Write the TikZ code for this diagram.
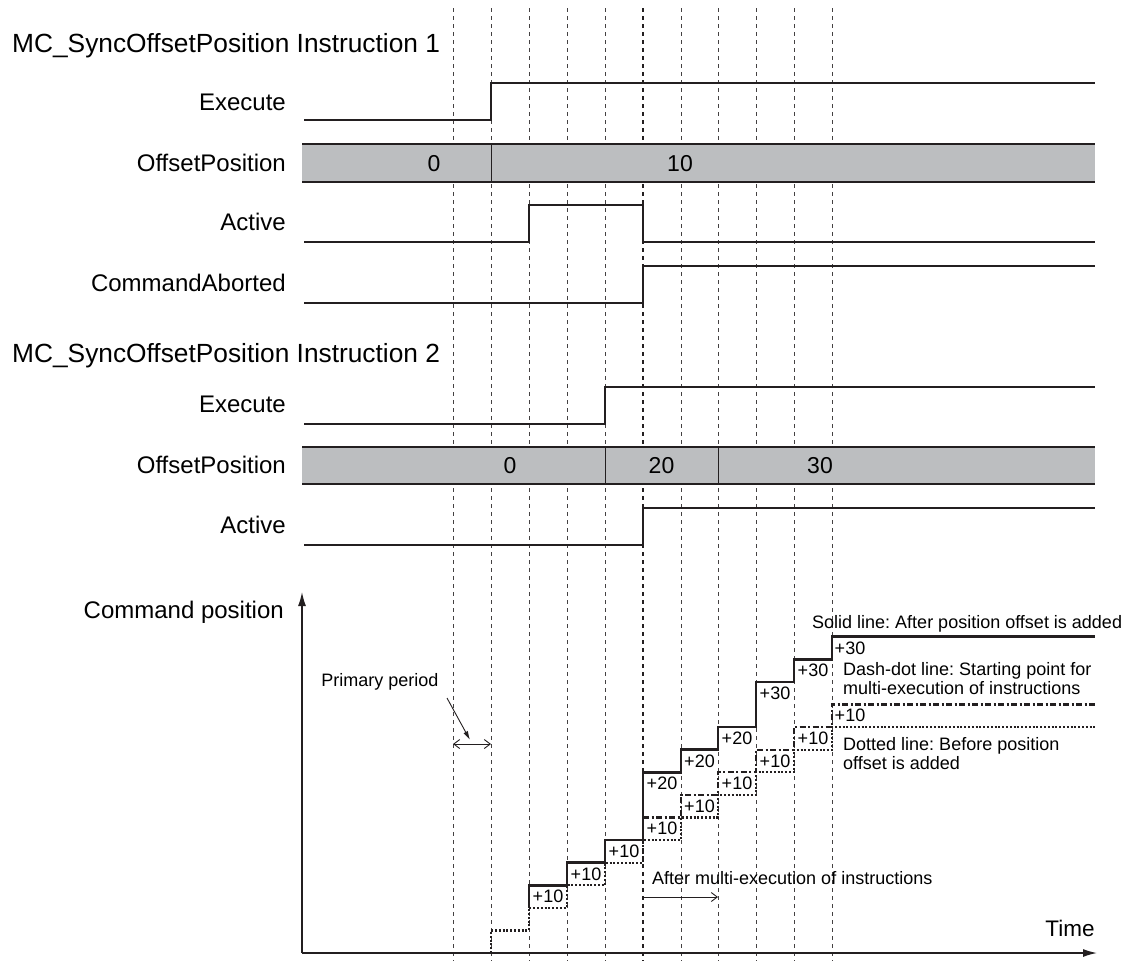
\documentclass[tikz,border=0pt]{standalone}
\usepackage{fontspec}
\setmainfont{Liberation Sans}
\usetikzlibrary{arrows.meta}
\definecolor{ink}{HTML}{231F20}
\definecolor{barfill}{HTML}{BCBEC0}
\frenchspacing
\begin{document}
\begin{tikzpicture}[x=1pt,y=-1pt,
  gridline/.style={ink!85, line width=0.8pt, dash pattern=on 4pt off 4pt},
  gridbold/.style={ink, line width=2.3pt, dash pattern=on 4pt off 4pt},
  sig/.style={ink, line width=2pt},
  barborder/.style={ink, line width=2pt},
  bardiv/.style={ink, line width=1pt},
  lbl/.style={anchor=base east, inner sep=0pt, font=\fontsize{24}{28}\selectfont},
  ttl/.style={anchor=base west, inner sep=0pt, font=\fontsize{26.3}{30}\selectfont},
  barnum/.style={anchor=base, inner sep=0pt, font=\fontsize{23}{26}\selectfont},
  small/.style={inner sep=0pt, font=\fontsize{18}{18.5}\selectfont},
  steplbl/.style={inner sep=0pt, font=\fontsize{18}{20}\selectfont},
  solidst/.style={ink, line width=2.6pt},
  dottedst/.style={ink, line width=2.2pt, dash pattern=on 2pt off 1.8pt},
  dashdotst/.style={ink, line width=2.2pt, dash pattern=on 6pt off 2.5pt on 2pt off 2.5pt},
  axisline/.style={ink, line width=1.4pt, -{Latex[length=14pt,width=8pt]}},
  thinarrow/.style={ink, line width=0.9pt},
]
\useasboundingbox (0,0) rectangle (1142,961);

% vertical dashed time grid
\foreach \x in {453,491,529,567,605,681,718,756,794,832}
  \draw[gridline] (\x,8) -- (\x,961);
\draw[gridbold] (643,8) -- (643,961);

% ---------- Instruction 1 ----------
\node[ttl] (title1) at (12,52) {MC\_SyncOffsetPosition Instruction 1};
\node[lbl] (exec1) at (286,110) {Execute};
\draw[sig] (304,120) -- (491,120) -- (491,83) -- (1095,83);

\node[lbl] (off1) at (286,171.6) {OffsetPosition};
\fill[barfill] (302,144) rectangle (1095,182);
\draw[barborder] (302,144) -- (1095,144) (302,182) -- (1095,182);
\draw[bardiv] (491,144) -- (491,182);
\node[barnum] (b1a) at (434,171.2) {0};
\node[barnum] (b1b) at (680,171.2) {10};

\node[lbl] (act1) at (286,230.5) {Active};
\draw[sig] (304,242) -- (529,242) -- (529,205) -- (643,205) -- (643,242) -- (1095,242);

\node[lbl] (abort1) at (286,291) {CommandAborted};
\draw[sig] (304,303) -- (643,303) -- (643,266) -- (1095,266);

% ---------- Instruction 2 ----------
\node[ttl] (title2) at (12,362) {MC\_SyncOffsetPosition Instruction 2};
\node[lbl] (exec2) at (286,412) {Execute};
\draw[sig] (304,424) -- (605,424) -- (605,387) -- (1095,387);

\node[lbl] (off2) at (286,473.5) {OffsetPosition};
\fill[barfill] (302,447) rectangle (1095,484);
\draw[barborder] (302,447) -- (1095,447) (302,484) -- (1095,484);
\draw[bardiv] (605,447) -- (605,484) (718,447) -- (718,484);
\node[barnum] (b2a) at (510,473.7) {0};
\node[barnum] (b2b) at (661.5,473.7) {20};
\node[barnum] (b2c) at (820,473.7) {30};

\node[lbl] (act2) at (286,533) {Active};
\draw[sig] (304,545) -- (643,545) -- (643,508) -- (1095,508);

% ---------- Command position chart ----------
\node[lbl] (cpos) at (284,618) {Command position};
\coordinate (origin) at (302,953);
\coordinate (ytip) at (302,592);
\coordinate (xtip) at (1097,953);
\draw[axisline] (origin) -- (ytip);
\draw[axisline] (origin) -- (xtip);
\node[anchor=base, inner sep=0pt, font=\fontsize{22.5}{26}\selectfont] (timelbl) at (1070,936) {Time};

% dotted: before position offset is added
\draw[dottedst] (453,953) -- (491,953) -- (491,930.4) -- (529,930.4) -- (529,907.8) -- (567,907.8) -- (567,885.2) -- (605,885.2) -- (605,862.6) -- (643,862.6) -- (643,840) -- (681,840) -- (681,817.4) -- (718,817.4) -- (718,794.8) -- (756,794.8) -- (756,772.2) -- (794,772.2) -- (794,749.6) -- (832,749.6) -- (832,727) -- (1095,727);

% dash-dot: starting point for multi-execution
\draw[dashdotst] (643,817.4) -- (681,817.4) -- (681,794.8) -- (718,794.8) -- (718,772.2) -- (756,772.2) -- (756,749.6) -- (794,749.6) -- (794,727) -- (832,727) -- (832,704.4) -- (1095,704.4);

% solid: after position offset is added
\draw[solidst] (529,907.8) -- (529,885.2) -- (567,885.2) -- (567,862.6) -- (605,862.6) -- (605,840) -- (643,840) -- (643,772.2) -- (681,772.2) -- (681,749.6) -- (718,749.6) -- (718,727) -- (756,727) -- (756,681.8) -- (794,681.8) -- (794,659.2) -- (832,659.2) -- (832,636.6) -- (1095,636.6);

% step labels
\foreach \cx/\cy/\t [count=\i] in {548/896.5/+10, 586/873.9/+10, 624/851.3/+10,
    662/783.5/+20, 662/828.7/+10, 699.5/760.9/+20, 699.5/806.1/+10,
    737/738.3/+20, 737/783.5/+10, 775/693.1/+30, 775/760.9/+10,
    813/670.5/+30, 813/738.3/+10, 850/647.9/+30, 850/715.7/+10}
  \node[steplbl] (st\i) at (\cx,\cy) {\t};

% legends
\node[small, anchor=base west] (legsolid) at (812,628) {Solid line: After position offset is added};
\node[small, anchor=west, align=left] (legdash) at (843,678.5) {Dash-dot line: Starting point for\\multi-execution of instructions};
\node[small, anchor=west, align=left] (legdot) at (843,753.5) {Dotted line: Before position\\offset is added};

% primary period
\node[small, anchor=base] (prim) at (380,686.5) {Primary period};
\coordinate (pa) at (447,698);
\coordinate (pb) at (470,740);
\draw[thinarrow, -{Latex[length=9pt,width=5pt]}] (pa) -- (pb);
\coordinate (pl) at (453,744);
\coordinate (pr) at (491,744);
\draw[thinarrow, {Straight Barb[length=6pt,width=9pt]}-{Straight Barb[length=6pt,width=9pt]}] (pl) -- (pr);

% after multi-execution
\node[small, anchor=west] (aftermulti) at (652,878) {After multi-execution of instructions};
\coordinate (ma) at (643,897);
\coordinate (mb) at (718,897);
\draw[thinarrow, -{Straight Barb[length=6pt,width=9pt]}] (ma) -- (mb);
\end{tikzpicture}
\end{document}
